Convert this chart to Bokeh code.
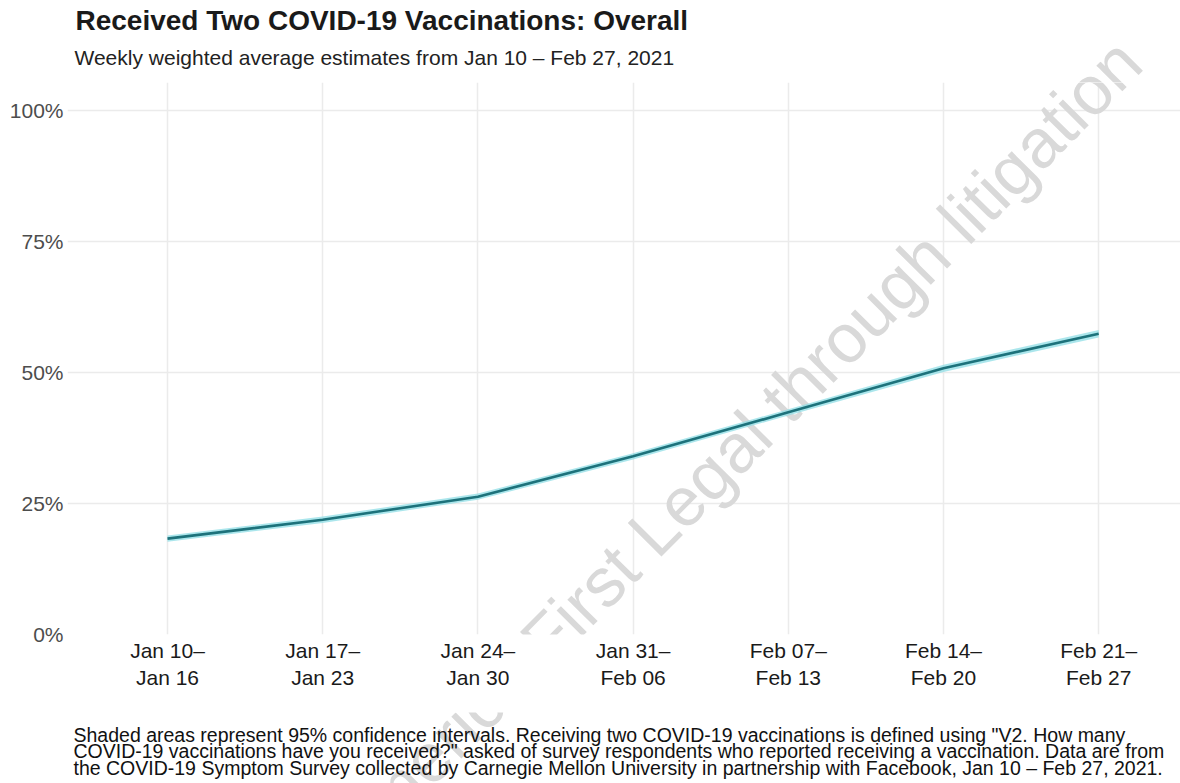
from bokeh.plotting import figure
from bokeh.layouts import column
from bokeh.models import FixedTicker, Label, Range1d, ColumnDataSource
from bokeh.embed import file_html
from bokeh.resources import INLINE

# ---- data ----
week_labels = ["Jan 10\u2013\nJan 16", "Jan 17\u2013\nJan 23", "Jan 24\u2013\nJan 30",
               "Jan 31\u2013\nFeb 06", "Feb 07\u2013\nFeb 13", "Feb 14\u2013\nFeb 20",
               "Feb 21\u2013\nFeb 27"]
pct_two_doses = [18.3, 21.9, 26.3, 34.0, 42.4, 50.8, 57.4]
ci_lower = [17.7, 21.3, 25.7, 33.4, 41.8, 50.1, 56.7]
ci_upper = [18.9, 22.5, 26.9, 34.6, 43.0, 51.5, 58.1]
y_ticks = [0, 25, 50, 75, 100]
y_tick_labels = ["0%", "25%", "50%", "75%", "100%"]

title_text = "Received Two COVID-19 Vaccinations: Overall"
subtitle_text = "Weekly weighted average estimates from Jan 10 \u2013 Feb 27, 2021"
footnote_lines = [
    "Shaded areas represent 95% confidence intervals. Receiving two COVID-19 vaccinations is defined using \"V2. How many",
    "COVID-19 vaccinations have you received?\" asked of survey respondents who reported receiving a vaccination. Data are from",
    "the COVID-19 Symptom Survey collected by Carnegie Mellon University in partnership with Facebook, Jan 10 \u2013 Feb 27, 2021.",
]
watermark_text = "America First Legal through litigation"

# ---- layout constants (page pixels) ----
W, H = 1180, 783
FONT = "Liberation Sans"
TOP_H = 82            # title band
FRAME_L = 67          # plot frame left (all frames are aligned to it)
FRAME_B = 634         # plot frame bottom
MAIN_BOTTOM = 712     # end of main figure
WM_X, WM_Y = 735, 448  # watermark anchor (page coords, y from top)


def add_watermark(fig, frame_bottom):
    fig.add_layout(Label(x=WM_X - FRAME_L, y=frame_bottom - WM_Y,
                         x_units="screen", y_units="screen", text=watermark_text,
                         angle=0.79, text_align="center", text_baseline="alphabetic",
                         text_font=FONT, text_font_size="69px", text_color="#d9d9d9",
                         level="underlay"))


def blank(height):
    f = figure(width=W, height=height, output_backend="svg", toolbar_location=None,
               x_axis_type=None, y_axis_type=None, x_range=Range1d(0, 1),
               y_range=Range1d(0, 1), min_border=0)
    f.outline_line_color = None
    f.grid.visible = False
    return f


def page_label(fig, frame_bottom, x, baseline_y, text, size, color, style="normal"):
    fig.add_layout(Label(x=x - FRAME_L, y=frame_bottom - baseline_y,
                         x_units="screen", y_units="screen", text=text,
                         text_font=FONT, text_font_size=size, text_font_style=style,
                         text_color=color, text_baseline="alphabetic"))


# ---- top band: title + subtitle ----
top = blank(TOP_H)
add_watermark(top, TOP_H)
page_label(top, TOP_H, 75, 20, title_text, "28px", "#1a1a1a", "bold")
page_label(top, TOP_H, 74, 57, subtitle_text, "21px", "#222222")

# ---- main plot ----
x_idx = list(range(len(week_labels)))
px_per_unit = 155.2
x_start = -(167 - FRAME_L) / px_per_unit
x_end = x_start + (W - FRAME_L) / px_per_unit
px_per_pct = (FRAME_B - 110) / 100.0
y_end = (FRAME_B - TOP_H) / px_per_pct

p = figure(width=W, height=MAIN_BOTTOM - TOP_H, output_backend="svg", toolbar_location=None,
           x_range=Range1d(x_start, x_end), y_range=Range1d(0, y_end),
           min_border_left=FRAME_L, min_border_right=0, min_border_top=0,
           min_border_bottom=MAIN_BOTTOM - FRAME_B)
p.outline_line_color = None
add_watermark(p, FRAME_B)

src = ColumnDataSource(dict(x=x_idx, y=pct_two_doses, lo=ci_lower, hi=ci_upper))
p.varea(x="x", y1="lo", y2="hi", source=src, fill_color="#8fdde6", fill_alpha=0.75)
p.line(x="x", y="y", source=src, line_color="#1d727b", line_width=2.6)

p.xaxis.ticker = FixedTicker(ticks=x_idx)
p.xaxis.major_label_overrides = {i: lab for i, lab in zip(x_idx, week_labels)}
p.yaxis.ticker = FixedTicker(ticks=y_ticks)
p.yaxis.major_label_overrides = {t: lab for t, lab in zip(y_ticks, y_tick_labels)}
for ax in (p.xaxis, p.yaxis):
    ax.axis_line_color = None
    ax.major_tick_line_color = None
    ax.minor_tick_line_color = None
    ax.major_label_text_font = FONT
    ax.major_label_text_font_size = "21px"
p.xaxis.major_label_text_color = "#1a1a1a"
p.xaxis.major_label_standoff = -2
p.yaxis.major_label_text_color = "#4d4d4d"
p.yaxis.major_label_standoff = -2

p.grid.grid_line_color = "#ebebeb"
p.grid.grid_line_width = 1.5
p.grid.minor_grid_line_color = None

# ---- bottom band: footnote ----
bot = blank(H - MAIN_BOTTOM)
add_watermark(bot, H)
for i, line in enumerate(footnote_lines):
    page_label(bot, H, 73, 734 + 16.5 * i, line, "19.5px", "#111111")

layout = column(top, p, bot, spacing=0)
open("out.html", "w").write(file_html(layout, INLINE))
